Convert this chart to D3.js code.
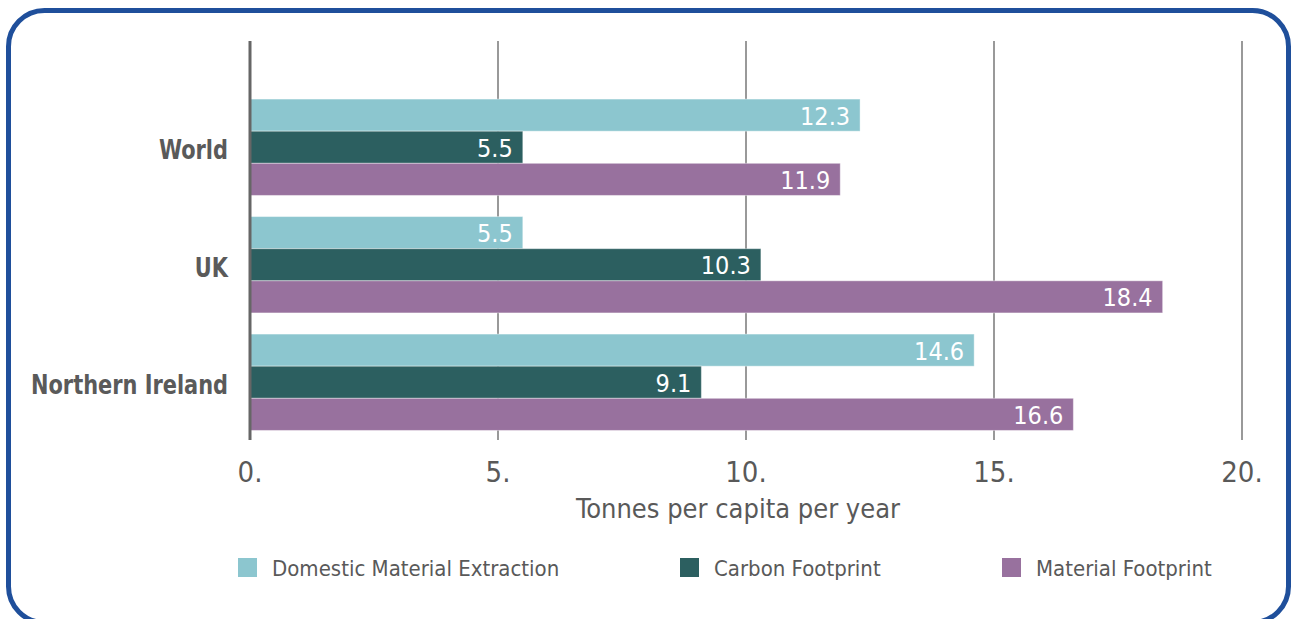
<!DOCTYPE html>
<html>
<head>
<meta charset="utf-8">
<script src="https://cdn.jsdelivr.net/npm/d3@7"></script>
<style>
  html, body { margin: 0; padding: 0; background: #fff; }
  svg { display: block; }
  text { font-family: "Liberation Sans Narrow", "DejaVu Sans Condensed", "Roboto", sans-serif; }
</style>
</head>
<body>
<svg id="chart" width="1292" height="619"></svg>
<script>
const categories = ["World", "UK", "Northern Ireland"];
const seriesNames = ["Domestic Material Extraction", "Carbon Footprint", "Material Footprint"];
const domesticMaterialExtraction = [12.3, 5.5, 14.6];
const carbonFootprint = [5.5, 10.3, 9.1];
const materialFootprint = [11.9, 18.4, 16.6];
const tickValues = [0, 5, 10, 15, 20];
const tickLabels = ["0.", "5.", "10.", "15.", "20."];
const axisTitle = "Tonnes per capita per year";
const colors = ["#8cc6cf", "#2c5f60", "#98719e"];

const seriesValues = [domesticMaterialExtraction, carbonFootprint, materialFootprint];

const svg = d3.select("#chart");

// rounded border
svg.append("rect")
  .attr("x", 8.5).attr("y", 10.5)
  .attr("width", 1280).attr("height", 612)
  .attr("rx", 36).attr("ry", 36)
  .attr("fill", "#fff")
  .attr("stroke", "#1f4f9b")
  .attr("stroke-width", 5);

const x = d3.scaleLinear().domain([0, 20]).range([250, 1242]);
const y0 = d3.scaleBand().domain(categories).range([88.5, 441]).paddingInner(0.18).paddingOuter(0.09);
const y1 = d3.scaleBand().domain(seriesNames).range([0, y0.bandwidth()]);

const gridTop = 41, gridBottom = 440;

// gridlines
svg.append("g").selectAll("line")
  .data(tickValues.filter(v => v > 0))
  .join("line")
  .attr("x1", d => x(d)).attr("x2", d => x(d))
  .attr("y1", gridTop).attr("y2", gridBottom)
  .attr("stroke", "#999").attr("stroke-width", 2);

// bars
const groups = svg.append("g").selectAll("g")
  .data(categories)
  .join("g")
  .attr("transform", d => `translate(0,${y0(d)})`);

groups.each(function(cat, ci) {
  const g = d3.select(this);
  seriesNames.forEach((s, si) => {
    const v = seriesValues[si][ci];
    g.append("rect")
      .attr("x", x(0))
      .attr("y", y1(s))
      .attr("width", x(v) - x(0))
      .attr("height", y1.bandwidth())
      .attr("fill", colors[si])
      .attr("stroke", "#fff").attr("stroke-opacity", 0.4).attr("stroke-width", 1);
    g.append("text")
      .attr("x", x(v) - 10)
      .attr("y", y1(s) + y1.bandwidth() / 2)
      .attr("dy", "0.38em")
      .attr("text-anchor", "end")
      .attr("fill", "#fff")
      .attr("font-size", 25)
      .text(v.toFixed(1));
  });
});

// zero axis line
svg.append("line")
  .attr("x1", x(0)).attr("x2", x(0))
  .attr("y1", gridTop).attr("y2", gridBottom)
  .attr("stroke", "#666").attr("stroke-width", 3);

// category labels (condensed to match the narrow reference face)
svg.append("g").selectAll("text")
  .data(categories)
  .join("text")
  .attr("x", 228)
  .attr("y", d => y0(d) + y0.bandwidth() / 2)
  .attr("dy", "0.45em")
  .attr("text-anchor", "end")
  .attr("fill", "#5a5a5a")
  .attr("font-size", 27)
  .attr("font-weight", "bold")
  .text(d => d)
  .each(function() {
    const w = this.getComputedTextLength();
    d3.select(this).attr("textLength", w * 0.86).attr("lengthAdjust", "spacingAndGlyphs");
  });

// x tick labels
svg.append("g").selectAll("text")
  .data(tickValues)
  .join("text")
  .attr("x", d => x(d))
  .attr("y", 482)
  .attr("text-anchor", "middle")
  .attr("fill", "#595959")
  .attr("font-size", 29)
  .text((d, i) => tickLabels[i]);

// axis title
svg.append("text")
  .attr("x", 738).attr("y", 518)
  .attr("text-anchor", "middle")
  .attr("fill", "#595959")
  .attr("font-size", 27)
  .text(axisTitle);

// legend
const legendX = [238, 680, 1002];
const lg = svg.append("g").selectAll("g")
  .data(seriesNames)
  .join("g")
  .attr("transform", (d, i) => `translate(${legendX[i]},558)`);
lg.append("rect").attr("width", 19).attr("height", 19).attr("fill", (d, i) => colors[i]);
lg.append("text")
  .attr("x", 34).attr("y", 10).attr("dy", "0.38em")
  .attr("fill", "#595959").attr("font-size", 22)
  .text(d => d);
</script>
</body>
</html>
